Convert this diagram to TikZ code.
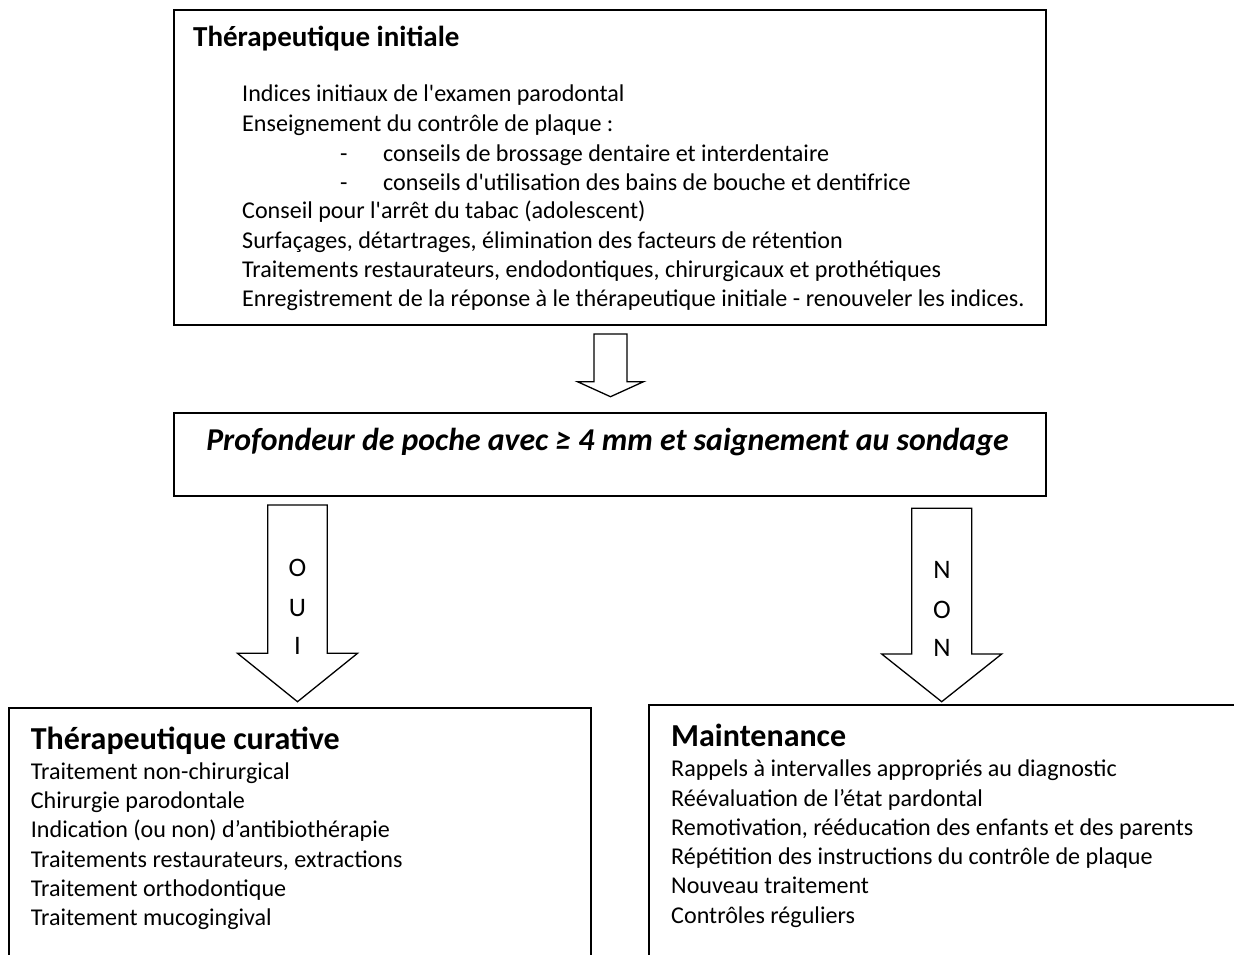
\documentclass[tikz,border=0pt]{standalone}
\usepackage{fontspec}
\setmainfont{Carlito}[Ligatures=TeXOff]
\newcommand{\blockarrow}[6]{% centre x, top, half shaft, head top, half head, tip
  \draw[arrowline] (#1-#3,#2) -- (#1+#3,#2) -- (#1+#3,#4) -- (#1+#5,#4)
    -- (#1,#6) -- (#1-#5,#4) -- (#1-#3,#4) -- cycle;}
\begin{document}
\begin{tikzpicture}[x=1pt,y=-1pt,
    box/.style={draw, line width=1.8pt},
    arrowline/.style={draw, line width=1.3pt, line join=miter},
    line/.style={anchor=base west, inner sep=0pt, font=\fontsize{24.1}{29}\selectfont},
    head/.style={anchor=base west, inner sep=0pt, font=\fontsize{29}{35}\selectfont\bfseries},
    bighead/.style={anchor=base west, inner sep=0pt, font=\fontsize{32}{38}\selectfont\bfseries},
    letter/.style={inner sep=0pt, font=\fontsize{26.7}{32}\selectfont}]
  \useasboundingbox (0,0) rectangle (1234,954);
  \clip (0,0) rectangle (1234,954);

  % therapeutique initiale
  \draw[box] (174,10) rectangle (1046,325);
  \node[head] (ti) at (193,46.7) {Thérapeutique initiale};
  \node[line] (i1) at (242,101.7) {Indices initiaux de l'examen parodontal};
  \node[line] (i2) at (242,131.7) {Enseignement du contrôle de plaque :};
  \node[line] (d1) at (340,161) {-};
  \node[line] (i3) at (383,161) {conseils de brossage dentaire et interdentaire};
  \node[line] (d2) at (340,190) {-};
  \node[line] (i4) at (383,190) {conseils d'utilisation des bains de bouche et dentifrice};
  \node[line] (i5) at (242,218.3) {Conseil pour l'arrêt du tabac (adolescent)};
  \node[line] (i6) at (242,248.3) {Surfaçages, détartrages, élimination des facteurs de rétention};
  \node[line] (i7) at (242,277.3) {Traitements restaurateurs, endodontiques, chirurgicaux et prothétiques};
  \node[line] (i8) at (242,306.7) {Enregistrement de la réponse à le thérapeutique initiale - renouveler les indices.};

  % profondeur de poche
  \draw[box] (174,413) rectangle (1046,496);
  \node[inner sep=0pt, anchor=base, font=\fontsize{31.8}{38}\selectfont\bfseries\itshape]
    (pp) at (607.5,450) {Profondeur de poche avec ≥ 4 mm et saignement au sondage};

  \blockarrow{610.5}{334}{16.5}{381.7}{33}{396.7}
  \blockarrow{297.5}{505}{29.8}{653.3}{60}{701.7}
  \blockarrow{941.7}{508.3}{30}{654}{60}{701.7}

  \node[letter] (o1) at (297.5,568) {O};
  \node[letter] (u1) at (297.5,608) {U};
  \node[letter] (i9) at (297.5,646) {I};
  \node[letter] (n1) at (942,570) {N};
  \node[letter] (o2) at (942,610) {O};
  \node[letter] (n2) at (942,648) {N};

  % therapeutique curative
  \draw[box] (9,708) rectangle (591,1000);
  \node[bighead] (tc) at (30.7,749) {Thérapeutique curative};
  \node[line] (c1) at (30.7,779.3) {Traitement non-chirurgical};
  \node[line] (c2) at (30.7,808.6) {Chirurgie parodontale};
  \node[line] (c3) at (30.7,837.9) {Indication (ou non) d’antibiothérapie};
  \node[line] (c4) at (30.7,867.2) {Traitements restaurateurs, extractions};
  \node[line] (c5) at (30.7,896.5) {Traitement orthodontique};
  \node[line] (c6) at (30.7,925.8) {Traitement mucogingival};

  % maintenance
  \draw[box] (649,705) rectangle (1260,1000);
  \node[bighead] (mt) at (671,746.5) {Maintenance};
  \node[line] (m1) at (671,776.7) {Rappels à intervalles appropriés au diagnostic};
  \node[line] (m2) at (671,806) {Réévaluation de l’état pardontal};
  \node[line] (m3) at (671,835.3) {Remotivation, rééducation des enfants et des parents};
  \node[line] (m4) at (671,864.6) {Répétition des instructions du contrôle de plaque};
  \node[line] (m5) at (671,893.9) {Nouveau traitement};
  \node[line] (m6) at (671,923.2) {Contrôles réguliers};
\end{tikzpicture}
\end{document}
